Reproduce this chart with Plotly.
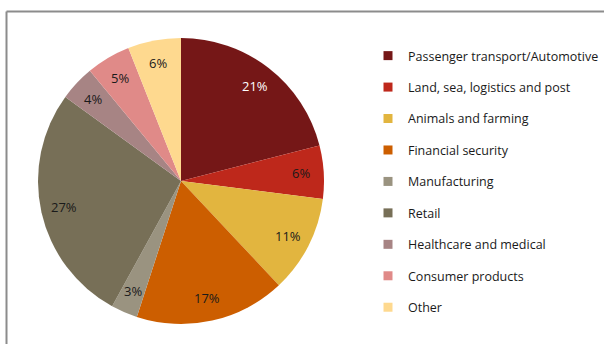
import numpy as np
import plotly.graph_objects as go

labels = ["Passenger transport/Automotive", "Land, sea, logistics and post",
          "Animals and farming", "Financial security", "Manufacturing", "Retail",
          "Healthcare and medical", "Consumer products", "Other"]
values = [21, 6, 11, 17, 3, 27, 4, 5, 6]
colors = ["#751717", "#BE281B", "#E2B53F", "#CC5E00", "#9A9380", "#776F57",
          "#A78484", "#E08A88", "#FED98F"]
text_colors = ["#FFFFFF"] + ["#1A1A1A"] * 8

W, H = 604, 344
FONT = "Open Sans"
dom = dict(x=[38 / W, 324 / W], y=[20 / H, 306 / H])
LABEL_R = 0.84  # label distance from centre, as a fraction of the radius

# mid-angle of each slice (radians clockwise from 12 o'clock), derived from the values
vals = np.array(values, dtype=float)
mid = (np.cumsum(vals) - vals / 2) / vals.sum() * 2 * np.pi

fig = go.Figure()
fig.add_trace(go.Pie(
    labels=labels, values=values, sort=False, direction="clockwise", rotation=0,
    marker=dict(colors=colors, line=dict(width=0)),
    textinfo="none", domain=dom, showlegend=False, hoverinfo="label+value",
))
for i, (lab, col) in enumerate(zip(labels, colors)):
    fig.add_trace(go.Scatter(
        x=[None], y=[None], mode="markers", name=lab, legendgroup=f"g{i}",
        marker=dict(symbol="square", size=9, color=col),
    ))

# percentage labels, placed on hidden axes that share the pie's domain (unit circle)
for v, a, tc in zip(values, mid, text_colors):
    fig.add_annotation(x=LABEL_R * np.sin(a), y=LABEL_R * np.cos(a), xref="x", yref="y",
                       text=f"{v}%", showarrow=False,
                       font=dict(color=tc, size=13, family=FONT))

fig.add_shape(type="line", xref="paper", yref="paper",
              x0=6.5 / W, x1=1.0, y0=1 - 11.5 / H, y1=1 - 11.5 / H,
              line=dict(color="#8C8C8C", width=2))
fig.add_shape(type="line", xref="paper", yref="paper",
              x0=6.5 / W, x1=6.5 / W, y0=0, y1=1 - 11.5 / H,
              line=dict(color="#8C8C8C", width=2))

fig.update_layout(
    width=W, height=H, margin=dict(l=0, r=0, t=0, b=0),
    paper_bgcolor="white", plot_bgcolor="rgba(0,0,0,0)",
    xaxis=dict(visible=False, domain=dom["x"], range=[-1, 1], fixedrange=True),
    yaxis=dict(visible=False, domain=dom["y"], range=[-1, 1], fixedrange=True),
    font=dict(family=FONT, size=12.5, color="#1A1A1A"),
    legend=dict(x=368 / W, xanchor="left", y=1 - 41 / H, yanchor="top",
                tracegroupgap=12.2, font=dict(size=12.5, family=FONT, color="#1A1A1A"),
                bgcolor="rgba(0,0,0,0)"),
    showlegend=True,
)
fig.write_html("out.html")
